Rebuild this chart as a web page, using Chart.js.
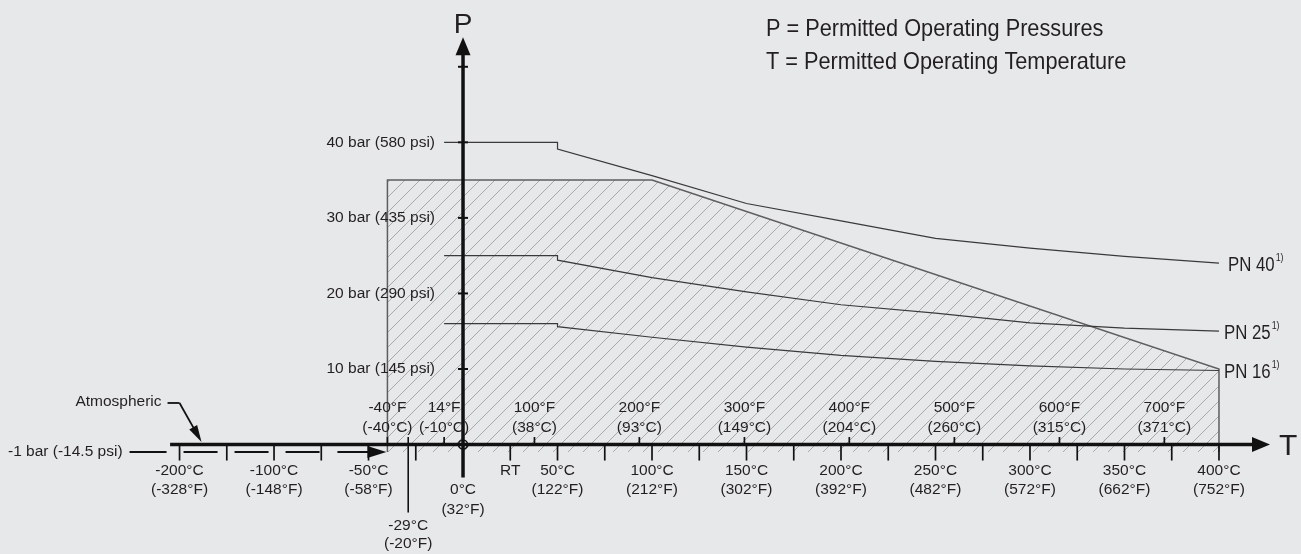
<!DOCTYPE html>
<html>
<head>
<meta charset="utf-8">
<script src="https://cdn.jsdelivr.net/npm/chart.js@4/dist/chart.umd.min.js"></script>
<style>
  html, body { margin: 0; padding: 0; background: #e7e8ea; overflow: hidden; }
  #wrap { width: 1301px; height: 554px; position: relative; }
</style>
</head>
<body>
<div id="wrap"><canvas id="chart"></canvas></div>
<script>
// ---- Pressure / temperature ratings (°C, bar) ----
const ratingTemps = [-10, 50, 50, 100, 150, 200, 250, 300, 350, 400];
const pn40 = [40, 40, 39.1, 35.6, 31.9, 29.6, 27.3, 26.0, 24.9, 24.0];
const pn25 = [25, 25, 24.4, 22.1, 20.2, 18.5, 17.4, 16.1, 15.4, 15.0];
const pn16 = [16, 16, 15.6, 14.2, 12.9, 11.8, 11.0, 10.4, 10.0, 9.8];
const seriesNames = ['PN 40', 'PN 25', 'PN 16'];

// ---- Permitted operating envelope (hatched area) ----
const envelopeTemps = [-40, -40, 100, 400, 400];
const envelopePress = [-1, 35, 35, 10, -1];

// ---- Pressure axis ----
const pressureTicks = [10, 20, 30, 40, 50];
const pressureLabels = ['10 bar (145 psi)', '20 bar (290 psi)', '30 bar (435 psi)', '40 bar (580 psi)', ''];
const vacuumPressure = -1;
const vacuumLabel = '-1 bar (-14.5 psi)';

// ---- Temperature axis, Celsius marks below ----
const celsiusTicks = [-200, -150, -100, -75, -50, -25, 25, 50, 75, 100, 125, 150, 175, 200, 225, 250, 275, 300, 325, 350, 375, 400];
const celsiusLabelTemps = [-200, -100, -50, 0, 50, 100, 150, 200, 250, 300, 350, 400];
const celsiusLabels = ['-200°C', '-100°C', '-50°C', '0°C', '50°C', '100°C', '150°C', '200°C', '250°C', '300°C', '350°C', '400°C'];
const celsiusLabelsF = ['(-328°F)', '(-148°F)', '(-58°F)', '(32°F)', '(122°F)', '(212°F)', '(302°F)', '(392°F)', '(482°F)', '(572°F)', '(662°F)', '(752°F)'];
const roomTemp = 25;
const minDesignTemp = -29;
const minDesignLabels = ['-29°C', '(-20°F)'];

// ---- Fahrenheit marks above the axis ----
const fahrenheitTemps = [-40, -10, 37.8, 93.3, 148.9, 204.4, 260, 315.6, 371.1];
const fahrenheitLabels = ['-40°F', '14°F', '100°F', '200°F', '300°F', '400°F', '500°F', '600°F', '700°F'];
const fahrenheitLabelsC = ['(-40°C)', '(-10°C)', '(38°C)', '(93°C)', '(149°C)', '(204°C)', '(260°C)', '(315°C)', '(371°C)'];

const legendLines = ['P = Permitted Operating Pressures', 'T = Permitted Operating Temperature'];

// The cryogenic part of the temperature axis is drawn at half scale below -100 °C
function axisPos(t) { return t >= -100 ? t : -100 + (t + 100) / 2; }

const FONT = '"Liberation Sans", Arial, Helvetica, sans-serif';
const INK = '#231f20';

function makeHatch() {
  const size = 15;
  const tile = document.createElement('canvas');
  tile.width = size; tile.height = size;
  const g = tile.getContext('2d');
  g.strokeStyle = '#a8a9ab';
  g.lineWidth = 1;
  g.beginPath();
  g.moveTo(-1, size + 1); g.lineTo(size + 1, -1);
  g.moveTo(-2, 2); g.lineTo(2, -2);
  g.moveTo(size - 2, size + 2); g.lineTo(size + 2, size - 2);
  g.stroke();
  return g.createPattern(tile, 'repeat');
}

function pts(xs, ys) { return xs.map((t, i) => ({ x: axisPos(t), y: ys[i] })); }

function text(ctx, s, x, y, size, align, sx, baseline) {
  ctx.save();
  ctx.font = size + 'px ' + FONT;
  ctx.fillStyle = INK;
  ctx.textAlign = align || 'center';
  ctx.textBaseline = baseline || 'middle';
  ctx.translate(x, y);
  ctx.scale(sx || 1, 1);
  ctx.fillText(s, 0, 0);
  ctx.restore();
}

function line(ctx, x1, y1, x2, y2, w, color) {
  ctx.save();
  ctx.strokeStyle = color || '#111';
  ctx.lineWidth = w;
  ctx.beginPath();
  ctx.moveTo(x1, y1); ctx.lineTo(x2, y2);
  ctx.stroke();
  ctx.restore();
}

function arrowHead(ctx, tx, ty, angle, len, half) {
  ctx.save();
  ctx.fillStyle = '#111';
  ctx.translate(tx, ty);
  ctx.rotate(angle);
  ctx.beginPath();
  ctx.moveTo(0, 0);
  ctx.lineTo(-len, -half);
  ctx.lineTo(-len, half);
  ctx.closePath();
  ctx.fill();
  ctx.restore();
}

const backgroundPlugin = {
  id: 'paper',
  beforeDraw(chart) {
    const ctx = chart.ctx;
    ctx.save();
    ctx.fillStyle = '#e7e8ea';
    ctx.fillRect(0, 0, chart.width, chart.height);
    ctx.restore();
  }
};

const diagramPlugin = {
  id: 'diagram',
  afterDatasetsDraw(chart) {
    const ctx = chart.ctx;
    const sx = chart.scales.x, sy = chart.scales.y;
    const X = t => sx.getPixelForValue(axisPos(t));
    const Y = p => sy.getPixelForValue(p);
    const x0 = X(0), y0 = Y(0);

    // Vacuum line at -1 bar with its label
    const yv = Y(vacuumPressure);
    text(ctx, vacuumLabel, X(-200) - 57, yv, 15.5, 'right');
    line(ctx, X(-200) - 50, yv, X(-200) - 13, yv, 2);
    ctx.save();
    ctx.setLineDash([34, 17]);
    line(ctx, X(-200) + 4, yv, X(-75) - 1, yv, 2);
    ctx.restore();
    line(ctx, X(-40) - 50, yv, X(-40) - 16, yv, 2);
    arrowHead(ctx, X(-40) - 1, yv, 0, 19, 6);

    // Temperature axis
    const tEnd = X(427);
    line(ctx, X(-210), y0, tEnd - 16, y0, 3.5);
    arrowHead(ctx, tEnd, y0, 0, 18, 7.5);
    text(ctx, 'T', tEnd + 9, y0 + 10, 30, 'left', 1, 'alphabetic');

    // Pressure axis
    const pTop = Y(53.9);
    line(ctx, x0, y0 + 33, x0, pTop + 16, 3.5);
    arrowHead(ctx, x0, pTop, -Math.PI / 2, 18, 7.5);
    text(ctx, 'P', x0, pTop - 4, 28, 'center', 1, 'alphabetic');

    // Pressure ticks and labels
    pressureTicks.forEach((p, i) => {
      line(ctx, x0 - 5, Y(p), x0 + 5, Y(p), 2);
      if (pressureLabels[i]) text(ctx, pressureLabels[i], x0 - 28, Y(p), 15.5, 'right');
    });

    // Origin marker
    ctx.save();
    ctx.strokeStyle = '#111';
    ctx.lineWidth = 1.6;
    ctx.beginPath();
    ctx.arc(x0, y0, 4.5, 0, Math.PI * 2);
    ctx.stroke();
    ctx.restore();

    // Celsius ticks below the axis
    celsiusTicks.forEach(t => line(ctx, X(t), y0, X(t), y0 + 16, 1.7));
    celsiusLabelTemps.forEach((t, i) => {
      const shift = t === 0 ? 19.5 : 0;
      text(ctx, celsiusLabels[i], X(t), y0 + 26 + shift, 15.5);
      text(ctx, celsiusLabelsF[i], X(t), y0 + 45.5 + shift, 15.5);
    });
    text(ctx, 'RT', X(roomTemp), y0 + 26, 15.5);

    // Minimum design temperature
    line(ctx, X(minDesignTemp), y0 - 7.5, X(minDesignTemp), y0 + 68, 1.6);
    text(ctx, minDesignLabels[0], X(minDesignTemp), y0 + 81, 15.5);
    text(ctx, minDesignLabels[1], X(minDesignTemp), y0 + 99.5, 15.5);

    // Fahrenheit ticks above the axis
    fahrenheitTemps.forEach((t, i) => {
      line(ctx, X(t), y0 - 7.5, X(t), y0, 1.7);
      text(ctx, fahrenheitLabels[i], X(t), y0 - 36.5, 15.5);
      text(ctx, fahrenheitLabelsC[i], X(t), y0 - 17, 15.5);
    });

    // "Atmospheric" callout pointing at the axis
    const ax = X(-200), ay = Y(5.5);
    text(ctx, 'Atmospheric', ax - 18, ay - 1, 15.5, 'right');
    line(ctx, ax - 12, ay, ax, ay, 1.8);
    const tipX = ax + 22, tipY = y0 - 2.5;
    const ang = Math.atan2(tipY - ay, tipX - ax);
    line(ctx, ax, ay, tipX - 14 * Math.cos(ang), tipY - 14 * Math.sin(ang), 1.8);
    arrowHead(ctx, tipX, tipY, ang, 17, 4.5);

    // Series labels at the right-hand end of each rating line
    [pn40, pn25, pn16].forEach((vals, i) => {
      const yEnd = Y(vals[vals.length - 1]) + 2;
      const xl = X(400) + (i === 0 ? 9 : 5);
      text(ctx, seriesNames[i], xl, yEnd, 20, 'left', 0.84);
      ctx.save();
      ctx.font = '20px ' + FONT;
      const w = ctx.measureText(seriesNames[i]).width * 0.84;
      ctx.restore();
      text(ctx, '1)', xl + w + 1, yEnd - 7, 10.5, 'left', 0.84);
    });

    // Legend text
    text(ctx, legendLines[0], 766, 35.7, 24, 'left', 0.905, 'alphabetic');
    text(ctx, legendLines[1], 766, 69.3, 24, 'left', 0.905, 'alphabetic');
  }
};

const ratingLine = (name, vals) => ({
  label: name,
  data: pts(ratingTemps, vals),
  borderColor: '#3a3a3a',
  borderWidth: 1.2,
  pointRadius: 0,
  tension: 0,
  fill: false,
  order: 1
});

new Chart(document.getElementById('chart'), {
  type: 'line',
  data: {
    datasets: [
      ratingLine(seriesNames[0], pn40),
      ratingLine(seriesNames[1], pn25),
      ratingLine(seriesNames[2], pn16),
      {
        label: 'Permitted range',
        data: pts(envelopeTemps, envelopePress),
        borderColor: '#5e5e5e',
        borderWidth: 1.5,
        backgroundColor: makeHatch(),
        fill: { value: -1 },
        pointRadius: 0,
        tension: 0,
        order: 2
      }
    ]
  },
  options: {
    responsive: true,
    maintainAspectRatio: false,
    devicePixelRatio: 1,
    animation: false,
    events: [],
    layout: { padding: 0 },
    plugins: { legend: { display: false }, tooltip: { enabled: false } },
    scales: {
      x: { type: 'linear', min: -245, max: 443.4, display: false },
      y: { type: 'linear', min: -14.49, max: 58.84, display: false }
    }
  },
  plugins: [backgroundPlugin, diagramPlugin]
});
</script>
</body>
</html>
